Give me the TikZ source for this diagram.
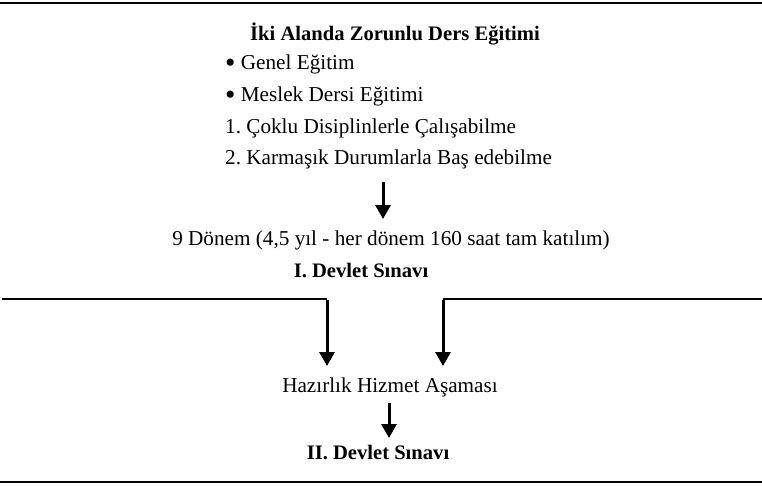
\documentclass[tikz,border=0pt]{standalone}
\usepackage{fontspec}
\setmainfont{Liberation Serif}
\usetikzlibrary{arrows.meta}
\newcommand{\blt}{\raisebox{-0.38ex}{\scalebox{1.4}{•}}}
\tikzset{
    txt/.style={inner sep=0pt, font=\fontsize{21.2}{24}\selectfont},
    txtb/.style={txt, font=\fontsize{20.6}{24}\selectfont\bfseries},
    rule/.style={line width=2.5pt},
    downarrow/.style={line width=3pt, -{Triangle[length=14pt, width=15pt]}}
}

\begin{document}
\frenchspacing
\begin{tikzpicture}[x=1pt, y=-1pt]
    \useasboundingbox (0,0) rectangle (762,485);

    % Rules
    \coordinate (TOP_W) at (0,3);
    \coordinate (TOP_E) at (762,3);
    \draw[rule] (TOP_W) -- (TOP_E);
    \coordinate (BOT_W) at (0,482);
    \coordinate (BOT_E) at (762,482);
    \draw[rule] (BOT_W) -- (BOT_E);

    % Upper block
    \node[txtb] (title) at (395,34) {İki Alanda Zorunlu Ders Eğitimi};
    \pgfmathsetmacro{\listX}{225}
    \node[txt, anchor=west] (genel) at (\listX,64) {\blt{} Genel Eğitim};
    \node[txt, anchor=west] (meslek) at (\listX,96) {\blt{} Meslek Dersi Eğitimi};
    \node[txt, anchor=west] (coklu) at (\listX,128) {1. Çoklu Disiplinlerle Çalışabilme};
    \node[txt, anchor=west] (karmasik) at (\listX,159) {2. Karmaşık Durumlarla Baş edebilme};

    \node[txt] (donem) at (391,240) {9 Dönem (4,5 yıl - her dönem 160 saat tam katılım)};
    \node[txtb] (sinav1) at (361,270) {I. Devlet Sınavı};

    \coordinate (A1_S) at (383,182);
    \coordinate (A1_E) at (383,219);
    \draw[downarrow] (A1_S) -- (A1_E);

    % Middle split
    \coordinate (MID_W) at (2,299);
    \coordinate (MID_L) at (327,299);
    \coordinate (MID_R) at (443,299);
    \coordinate (MID_E) at (762,299);
    \node[txt] (hazirlik) at (390,387) {Hazırlık Hizmet Aşaması};
    \coordinate (A2_E) at (327,366);
    \coordinate (A3_E) at (443,366);
    \draw[line width=2pt] (MID_W) -- (MID_L);
    \draw[line width=2pt] (MID_E) -- (MID_R);
    \draw[downarrow] ([yshift=-1pt]MID_L) -- (A2_E);
    \draw[downarrow] ([yshift=-1pt]MID_R) -- (A3_E);

    % Lower block
    \node[txtb] (sinav2) at (378,452) {II. Devlet Sınavı};
    \coordinate (A4_S) at (389,403);
    \coordinate (A4_E) at (389,438);
    \draw[downarrow] (A4_S) -- (A4_E);

\end{tikzpicture}
\end{document}
